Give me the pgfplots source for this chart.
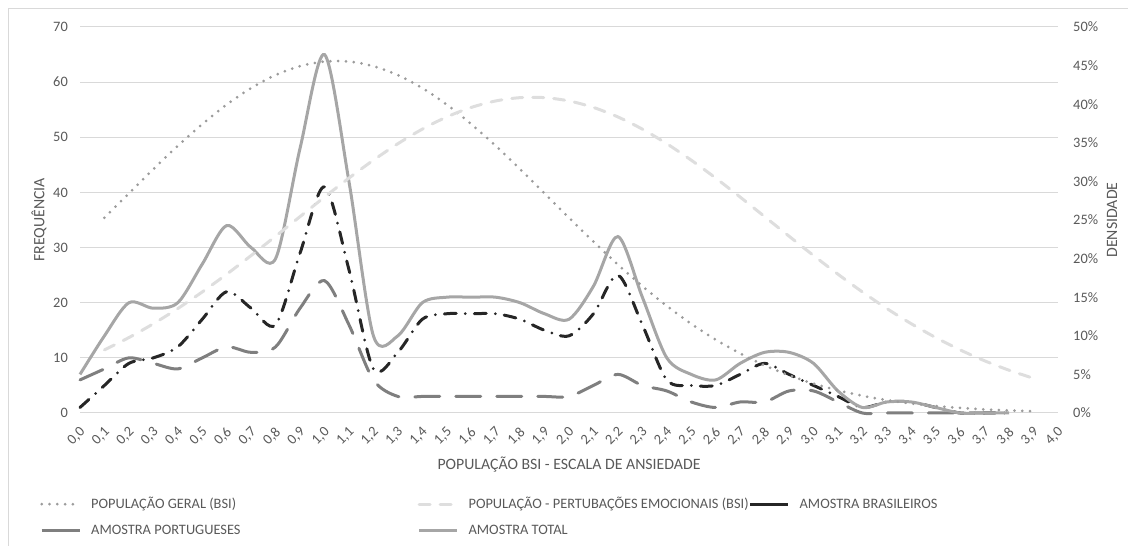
\documentclass[border=0pt]{standalone}
\usepackage{fontspec}
\setmainfont{Carlito}
\usepackage{pgfplots}
\pgfplotsset{compat=1.18}
\usepackage{pgfplotstable}
\definecolor{txt}{HTML}{595959}
\definecolor{gridc}{HTML}{D9D9D9}
\definecolor{cgeral}{HTML}{9C9C9C}
\definecolor{cemo}{HTML}{DEDEDE}
\definecolor{cbra}{HTML}{262626}
\definecolor{cpor}{HTML}{7F7F7F}
\definecolor{ctot}{HTML}{A6A6A6}
\tikzset{
 sgeral/.style={cgeral, line width=3pt, line cap=round, dash pattern=on 0pt off 7.8pt},
 semo/.style={cemo, line width=3pt, line cap=round, dash pattern=on 11pt off 10pt},
 sbra/.style={cbra, line width=3pt, line cap=round, dash pattern=on 12pt off 9pt on 0pt off 9pt},
 spor/.style={cpor, line width=3pt, line cap=round, dash pattern=on 25pt off 16pt},
 stot/.style={ctot, line width=3pt},
}
% x in tenths: 0 = 0,0 ... 40 = 4,0
\pgfplotstableread{
x B P T
0 1 6 7
1 5 8 14
2 9 10 20
3 10 9 19
4 12 8 20
5 17 10 27
6 22 12 34
7 19 11 30
8 16 12 28
9 29 19 48
10 41 24 65
11 26 16 42
12 8 6 14
13 11 3 14
14 17 3 20
15 18 3 21
16 18 3 21
17 18 3 21
18 17 3 20
19 15 3 18
20 14 3 17
21 18 5 23
22 25 7 32
23 16 5 21
24 6 4 10
25 5 2 7
26 5 1 6
27 7 2 9
28 9 2 11
29 7 4 11
30 5 4 9
31 3 2 4
32 1 0 1
33 2 0 2
34 2 0 2
35 1 0 1
36 0 0 0
37 0 0 0
38 0 0 0
}\amostras
% densities in percent
\pgfplotstableread{
x G E
1 25.29 8.17
2 28.45 9.77
3 31.58 11.56
4 34.61 13.53
5 37.42 15.68
6 39.95 17.98
7 42.09 20.40
8 43.78 22.90
9 44.93 25.44
10 45.53 27.97
11 45.53 30.43
12 44.93 32.75
13 43.78 34.88
14 42.09 36.77
15 39.95 38.35
16 37.42 39.58
17 34.61 40.42
18 31.58 40.85
19 28.45 40.85
20 25.29 40.42
21 22.20 39.58
22 19.23 38.35
23 16.43 36.77
24 13.87 34.88
25 11.55 32.75
26 9.50 30.43
27 7.71 27.97
28 6.17 25.44
29 4.88 22.90
30 3.81 20.40
31 2.93 17.98
32 2.23 15.68
33 1.67 13.53
34 1.24 11.56
35 0.90 9.77
36 0.65 8.17
37 0.46 6.76
38 0.33 5.54
39 0.23 4.49
}\populacao
\begin{document}
\begin{tikzpicture}
\path[use as bounding box] (0,0) rectangle (1128pt,546pt);
\draw[gridc, line width=1pt] (8.5pt,0pt) -- (8.5pt,537.5pt) -- (1128pt,537.5pt);
\begin{axis}[
  at={(80pt,133pt)}, anchor=south west, scale only axis,
  width=978pt, height=386pt,
  xmin=0, xmax=40, ymin=0, ymax=70,
  clip=false,
  axis line style={draw=none}, major tick length=0pt,
  ymajorgrids, grid style={gridc, line width=1pt},
  ytick={0,10,...,70}, yticklabels={0,10,20,30,40,50,60,70},
  xtick={0,...,40},
  xticklabels={{0,0},{0,1},{0,2},{0,3},{0,4},{0,5},{0,6},{0,7},{0,8},{0,9},{1,0},{1,1},{1,2},{1,3},{1,4},{1,5},{1,6},{1,7},{1,8},{1,9},{2,0},{2,1},{2,2},{2,3},{2,4},{2,5},{2,6},{2,7},{2,8},{2,9},{3,0},{3,1},{3,2},{3,3},{3,4},{3,5},{3,6},{3,7},{3,8},{3,9},{4,0}},
  ticklabel style={font=\fontsize{14.4}{16}\selectfont, text=txt, inner sep=0pt},
  yticklabel style={xshift=-12pt},
  xticklabel style={yshift=-17pt, xshift=3pt, rotate=45, anchor=east},
  xlabel={POPULAÇÃO BSI - ESCALA DE ANSIEDADE},
  ylabel={FREQUÊNCIA},
  every axis x label/.style={at={(axis description cs:0.5,-0.1347)}, anchor=center},
  every axis y label/.style={at={(axis description cs:-0.042,0.5)}, anchor=center, rotate=90},
  label style={font=\fontsize{15.8}{18}\selectfont, text=txt},
]
\addplot[sbra, smooth] table[x=x, y=B] {\amostras};
\addplot[spor, smooth] table[x=x, y=P] {\amostras};
\addplot[stot, smooth] table[x=x, y=T] {\amostras};
\end{axis}
\begin{axis}[
  at={(80pt,133pt)}, anchor=south west, scale only axis,
  width=978pt, height=386pt,
  xmin=0, xmax=40, ymin=0, ymax=50,
  clip=false,
  axis x line=none, axis y line*=right,
  axis line style={draw=none}, major tick length=0pt,
  ytick={0,5,...,50},
  yticklabels={0\%,5\%,10\%,15\%,20\%,25\%,30\%,35\%,40\%,45\%,50\%},
  ticklabel style={font=\fontsize{14.4}{16}\selectfont, text=txt, inner sep=0pt},
  yticklabel style={xshift=15pt, anchor=west},
  ylabel={DENSIDADE},
  every axis y label/.style={at={(axis description cs:1.0552,0.5)}, anchor=center, rotate=90},
  label style={font=\fontsize{15.8}{18}\selectfont, text=txt},
  legend columns=3,
  legend cell align=left,
  legend image code/.code={\draw[#1] (0pt,0pt) -- (38pt,0pt);},
  legend style={at={(axis description cs:-0.0409,-0.2176)}, anchor=north west,
    draw=none, fill=none, inner sep=0pt,
    font=\fontsize{14.4}{16}\selectfont, text=txt,
    row sep=12pt,
    nodes={inner sep=0pt, text height=11pt, text depth=3pt},
    /tikz/every odd column/.style={column sep=10pt},
    /tikz/column 2/.style={column sep=177pt},
    /tikz/column 4/.style={column sep=0pt}},
]
\addplot[sgeral, smooth] table[x=x, y=G] {\populacao};
\addplot[semo, smooth] table[x=x, y=E] {\populacao};
\addlegendimage{cbra, line width=3pt}
\addlegendimage{cpor, line width=3pt}
\addlegendimage{stot}
\legend{POPULAÇÃO GERAL (BSI),POPULAÇÃO - PERTUBAÇÕES EMOCIONAIS (BSI),AMOSTRA BRASILEIROS,AMOSTRA PORTUGUESES,AMOSTRA TOTAL}
\end{axis}
\end{tikzpicture}
\end{document}
